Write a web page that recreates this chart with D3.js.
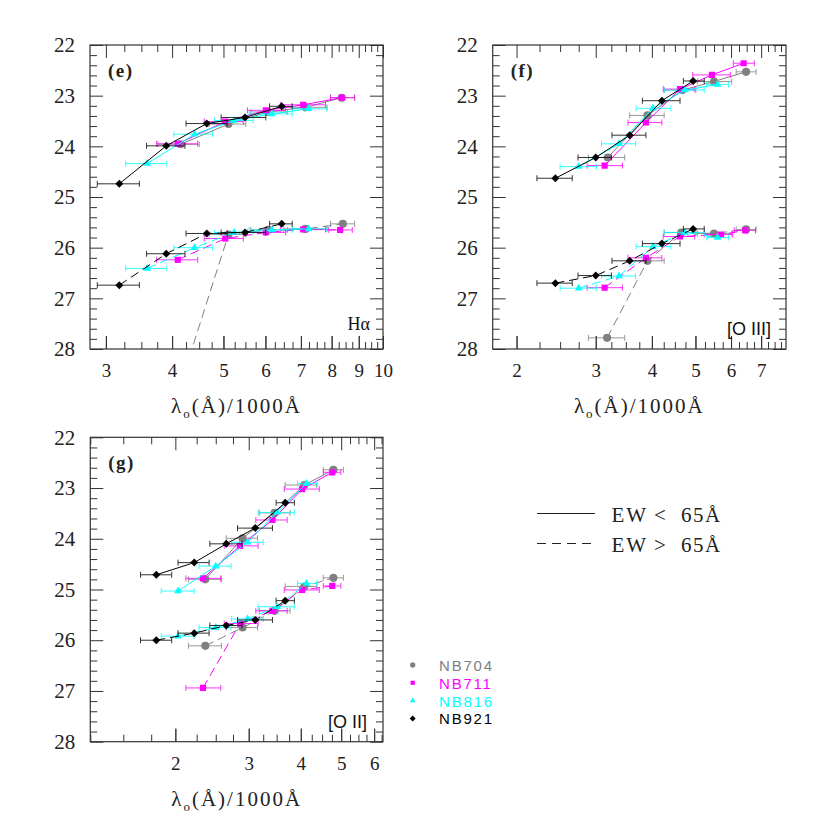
<!DOCTYPE html>
<html><head><meta charset="utf-8">
<script src="https://cdn.jsdelivr.net/npm/d3@7/dist/d3.min.js"></script>
<style>html,body{margin:0;padding:0;background:#fff}svg{display:block}</style>
</head><body>
<svg id="chart" width="830" height="830"></svg>
<script>
// ---------------- data ----------------
const filters = ["NB704", "NB711", "NB816", "NB921"];
const filterColors = ["#808080", "#ff00ff", "#00ffff", "#000000"];
const magTicks = [22, 23, 24, 25, 26, 27, 28];
const haTicks = [3, 4, 5, 6, 7, 8, 9, 10];
const oiiiTicks = [2, 3, 4, 5, 6, 7];
const oiiTicks = [2, 3, 4, 5, 6];
const ewLabels = [["EW", "<", "65Å"], ["EW", ">", "65Å"]];
const lineNames = ["Hα", "[O III]", "[O II]"];
const panelTags = ["(e)", "(f)", "(g)"];

// rows: NB704, NB711, NB816, NB921
// ---- Hα : EW < 65 Å
const haLamA = [[4.15, 5.11, 6.07, 7.14, 8.36], [4.10, 5.04, 6.01, 7.07, 8.36], [3.59, 4.41, 5.24, 6.17, 7.24], [3.18, 3.90, 4.65, 5.49, 6.44]];
const haLoA  = [[3.76, 4.70, 5.63, 6.50, 7.96], [3.74, 4.60, 5.55, 6.41, 7.96], [3.27, 4.03, 4.81, 5.59, 6.74], [2.89, 3.58, 4.25, 4.95, 6.11]];
const haHiA  = [[4.50, 5.51, 6.60, 7.84, 8.84], [4.47, 5.45, 6.55, 7.79, 8.84], [3.91, 4.77, 5.69, 6.74, 7.84], [3.47, 4.23, 5.08, 6.01, 6.74]];
const haMagA = [[23.96, 23.56, 23.32, 23.23, 23.04], [23.95, 23.51, 23.29, 23.18, 23.04], [24.34, 23.76, 23.49, 23.36, 23.26], [24.74, 23.99, 23.55, 23.43, 23.21]];
// ---- Hα : EW > 65 Å
const haLamB = [[4.15, 5.11, 6.07, 7.14, 8.40], [4.10, 5.04, 6.01, 7.07, 8.30], [3.59, 4.41, 5.24, 6.17, 7.24], [3.18, 3.90, 4.65, 5.49, 6.44]];
const haLoB  = [[3.76, 4.70, 5.63, 6.50, 7.96], [3.74, 4.60, 5.55, 6.41, 7.90], [3.27, 4.03, 4.81, 5.59, 6.74], [2.89, 3.58, 4.25, 4.95, 6.11]];
const haHiB  = [[4.50, 5.51, 6.60, 7.84, 8.84], [4.47, 5.45, 6.55, 7.79, 8.75], [3.91, 4.77, 5.69, 6.74, 7.84], [3.47, 4.23, 5.08, 6.01, 6.74]];
const haMagB = [[28.70, 25.74, 25.65, 25.63, 25.53], [26.24, 25.82, 25.70, 25.64, 25.65], [26.41, 26.00, 25.70, 25.65, 25.63], [26.74, 26.12, 25.72, 25.70, 25.53]];

// ---- [O III] : EW < 65 Å
const oiiiLamA = [[3.19, 3.91, 4.68, 5.50, 6.48], [3.14, 3.88, 4.62, 5.44, 6.40], [2.75, 3.38, 4.02, 4.74, 5.60], [2.44, 3.00, 3.57, 4.21, 4.94]];
const oiiiLoA  = [[2.89, 3.57, 4.26, 5.05, 6.16], [2.87, 3.54, 4.24, 4.93, 6.07], [2.50, 3.09, 3.69, 4.26, 5.30], [2.22, 2.74, 3.26, 3.81, 4.70]];
const oiiiHiA  = [[3.48, 4.26, 5.01, 6.02, 6.82], [3.44, 4.21, 4.98, 5.98, 6.76], [3.01, 3.68, 4.41, 5.23, 5.92], [2.66, 3.25, 3.88, 4.62, 5.23]];
const oiiiMagA = [[24.22, 23.39, 22.89, 22.72, 22.53], [24.38, 23.53, 22.87, 22.59, 22.36], [24.40, 23.95, 23.25, 22.89, 22.78], [24.63, 24.22, 23.78, 23.10, 22.71]];
// ---- [O III] : EW > 65 Å
const oiiiLamB = [[3.18, 3.91, 4.65, 5.50, 6.48], [3.14, 3.88, 4.62, 5.70, 6.45], [2.75, 3.38, 4.02, 4.74, 5.60], [2.44, 3.00, 3.57, 4.21, 4.94]];
const oiiiLoB  = [[2.89, 3.57, 4.26, 5.05, 6.16], [2.87, 3.54, 4.24, 5.23, 6.10], [2.50, 3.09, 3.69, 4.26, 5.30], [2.22, 2.74, 3.26, 3.81, 4.70]];
const oiiiHiB  = [[3.48, 4.26, 5.01, 6.02, 6.82], [3.44, 4.21, 4.98, 6.05, 6.80], [3.01, 3.68, 4.41, 5.23, 5.92], [2.66, 3.25, 3.88, 4.62, 5.23]];
const oiiiMagB = [[27.78, 26.26, 25.70, 25.72, 25.64], [26.79, 26.20, 25.78, 25.74, 25.66], [26.80, 26.56, 25.98, 25.70, 25.80], [26.70, 26.55, 26.26, 25.92, 25.63]];

// ---- [O II] : EW < 65 Å
const oiiLamA = [[2.36, 2.90, 3.46, 4.08, 4.79], [2.33, 2.86, 3.42, 4.03, 4.76], [2.03, 2.50, 2.98, 3.51, 4.13], [1.80, 2.22, 2.65, 3.11, 3.67]];
const oiiLoA  = [[2.15, 2.65, 3.18, 3.67, 4.53], [2.12, 2.62, 3.12, 3.65, 4.53], [1.85, 2.28, 2.73, 3.16, 3.93], [1.65, 2.03, 2.42, 2.82, 3.49]];
const oiiHiA  = [[2.58, 3.15, 3.77, 4.37, 5.06], [2.57, 3.16, 3.71, 4.43, 4.99], [2.22, 2.72, 3.25, 3.86, 4.37], [1.96, 2.41, 2.89, 3.42, 3.86]];
const oiiMagA = [[24.80, 23.99, 23.49, 22.94, 22.64], [24.78, 24.14, 23.63, 23.02, 22.69], [25.03, 24.54, 24.07, 23.48, 22.91], [24.71, 24.47, 24.10, 23.79, 23.29]];
// ---- [O II] : EW > 65 Å
const oiiLamB = [[2.36, 2.90, 3.46, 4.08, 4.79], [2.33, 2.86, 3.42, 4.03, 4.76], [2.03, 2.50, 2.98, 3.51, 4.13], [1.80, 2.22, 2.65, 3.11, 3.67]];
const oiiLoB  = [[2.15, 2.65, 3.18, 3.67, 4.53], [2.12, 2.62, 3.12, 3.65, 4.53], [1.85, 2.28, 2.73, 3.16, 3.93], [1.65, 2.03, 2.42, 2.82, 3.49]];
const oiiHiB  = [[2.58, 3.15, 3.77, 4.37, 5.06], [2.57, 3.16, 3.71, 4.43, 4.99], [2.22, 2.72, 3.25, 3.86, 4.37], [1.96, 2.41, 2.89, 3.42, 3.86]];
const oiiMagB = [[26.11, 25.75, 25.42, 24.94, 24.77], [26.94, 25.67, 25.42, 25.01, 24.93], [25.92, 25.75, 25.58, 25.34, 24.88], [26.00, 25.86, 25.71, 25.60, 25.22]];

// ---------------- drawing ----------------
const svg = d3.select("#chart");
const SERIF = "'Liberation Serif','DejaVu Serif',serif";
const SANS = "'Liberation Sans',Arial,sans-serif";
const FRAME = "#333";

function pack(lam, lo, hi, mag) {
  return lam.map((row, i) => row.map((v, j) => ({ lam: v, lo: lo[i][j], hi: hi[i][j], mag: mag[i][j] })));
}

const panels = [
  { id: "e", left: 90, right: 383, top: 45, bottom: 349, domain: [2.8, 10], ticks: haTicks,
    tag: panelTags[0], name: lineNames[0], nameFont: SERIF, nameX: 370, nameY: 330,
    A: pack(haLamA, haLoA, haHiA, haMagA), B: pack(haLamB, haLoB, haHiB, haMagB) },
  { id: "f", left: 492.7, right: 786, top: 45, bottom: 349, domain: [1.77, 7.95], ticks: oiiiTicks,
    tag: panelTags[1], name: lineNames[1], nameFont: SANS, nameX: 771, nameY: 335,
    A: pack(oiiiLamA, oiiiLoA, oiiiHiA, oiiiMagA), B: pack(oiiiLamB, oiiiLoB, oiiiHiB, oiiiMagB) },
  { id: "g", left: 90.3, right: 383, top: 437.3, bottom: 741.7, domain: [1.25, 6.3], ticks: oiiTicks,
    tag: panelTags[2], name: lineNames[2], nameFont: SANS, nameX: 367, nameY: 727.5,
    A: pack(oiiLamA, oiiLoA, oiiHiA, oiiMagA), B: pack(oiiLamB, oiiLoB, oiiHiB, oiiMagB) }
];

const symbols = [
  d3.symbol().type(d3.symbolCircle).size(52),
  d3.symbol().type(d3.symbolSquare).size(38),
  d3.symbol().type(d3.symbolTriangle).size(26),
  () => "M0,-4L4,0L0,4L-4,0Z"
];

function styleAxis(a, size) {
  a.select(".domain").remove();
  a.selectAll(".tick line").attr("stroke", FRAME).attr("stroke-width", 1);
  a.attr("font-family", SERIF).attr("font-size", size);
  a.selectAll("text").attr("fill", "#222");
}

panels.forEach(p => {
  const x = d3.scaleLog().domain(p.domain).range([p.left, p.right]);
  const y = d3.scaleLinear().domain([22, 28]).range([p.top, p.bottom]);
  const g = svg.append("g");
  const W = p.right - p.left, H = p.bottom - p.top;

  const clipId = "clip-" + p.id;
  svg.append("clipPath").attr("id", clipId).append("rect")
    .attr("x", p.left).attr("y", p.top).attr("width", W).attr("height", H);

  const d0 = p.domain[0], d1 = p.domain[1];
  const xMinor = d3.range(Math.ceil(d0 * 4) / 4, d1 + 1e-9, 0.25).filter(v => Math.abs(v - Math.round(v)) > 1e-6);
  const xMajorAll = d3.range(Math.ceil(d0), Math.floor(d1) + 1e-9, 1);
  const yMinor = d3.range(22, 28.0001, 0.2).filter(v => Math.abs(v - Math.round(v)) > 1e-6);
  const noLab = () => "";

  // bottom
  styleAxis(g.append("g").attr("transform", `translate(0,${p.bottom})`)
    .call(d3.axisBottom(x).tickValues(p.ticks).tickSize(-13).tickPadding(15).tickFormat(d3.format("d"))), 19);
  styleAxis(g.append("g").attr("transform", `translate(0,${p.bottom})`)
    .call(d3.axisBottom(x).tickValues(xMinor).tickSize(-7).tickFormat(noLab)), 10);
  styleAxis(g.append("g").attr("transform", `translate(0,${p.bottom})`)
    .call(d3.axisBottom(x).tickValues(xMajorAll).tickSize(-13).tickFormat(noLab)), 10);
  // top
  styleAxis(g.append("g").attr("transform", `translate(0,${p.top})`)
    .call(d3.axisTop(x).tickValues(xMajorAll).tickSize(-13).tickFormat(noLab)), 10);
  styleAxis(g.append("g").attr("transform", `translate(0,${p.top})`)
    .call(d3.axisTop(x).tickValues(xMinor).tickSize(-7).tickFormat(noLab)), 10);
  // left
  styleAxis(g.append("g").attr("transform", `translate(${p.left},0)`)
    .call(d3.axisLeft(y).tickValues(magTicks).tickSize(-13).tickPadding(15).tickFormat(d3.format("d"))), 21);
  styleAxis(g.append("g").attr("transform", `translate(${p.left},0)`)
    .call(d3.axisLeft(y).tickValues(yMinor).tickSize(-7).tickFormat(noLab)), 10);
  // right
  styleAxis(g.append("g").attr("transform", `translate(${p.right},0)`)
    .call(d3.axisRight(y).tickValues(magTicks).tickSize(-13).tickFormat(noLab)), 10);
  styleAxis(g.append("g").attr("transform", `translate(${p.right},0)`)
    .call(d3.axisRight(y).tickValues(yMinor).tickSize(-7).tickFormat(noLab)), 10);

  g.append("rect").attr("x", p.left).attr("y", p.top).attr("width", W).attr("height", H)
    .attr("fill", "none").attr("stroke", FRAME).attr("stroke-width", 1.2);

  // x title
  const t = g.append("text").attr("x", (p.left + p.right) / 2).attr("y", p.bottom + 64)
    .attr("text-anchor", "middle").attr("font-family", SERIF).attr("font-size", 21)
    .attr("letter-spacing", 2).attr("fill", "#222");
  t.append("tspan").text("λ");
  t.append("tspan").attr("font-size", 13).attr("dy", 5).text("o");
  t.append("tspan").attr("dy", -5).text("(Å)/1000Å");

  // panel tag & line name
  g.append("text").attr("x", p.left + 18).attr("y", p.top + 32).attr("font-family", SERIF)
    .attr("font-weight", "bold").attr("font-size", 19).attr("letter-spacing", 1.5).attr("fill", "#222").text(p.tag);
  g.append("text").attr("x", p.nameX).attr("y", p.nameY).attr("text-anchor", "end")
    .attr("font-family", p.nameFont).attr("font-size", 18).attr("fill", "#111").text(p.name);

  // data
  const plot = g.append("g").attr("clip-path", `url(#${clipId})`);
  const line = d3.line().x(d => x(d.lam)).y(d => y(d.mag));
  [0, 1, 2, 3].forEach(k => {
    const col = filterColors[k];
    [["A", null], ["B", "9,5"]].forEach(([grp, dash]) => {
      const pts = p[grp][k];
      plot.append("path").datum(pts).attr("d", line).attr("fill", "none")
        .attr("stroke", col).attr("stroke-width", 1).attr("stroke-dasharray", dash);
      const eb = plot.append("g").attr("stroke", col).attr("stroke-width", 1).attr("opacity", 0.8);
      pts.forEach(d => {
        const yy = y(d.mag), xa = x(d.lo), xb = x(d.hi);
        eb.append("line").attr("x1", xa).attr("x2", xb).attr("y1", yy).attr("y2", yy);
        eb.append("line").attr("x1", xa).attr("x2", xa).attr("y1", yy - 3).attr("y2", yy + 3);
        eb.append("line").attr("x1", xb).attr("x2", xb).attr("y1", yy - 3).attr("y2", yy + 3);
      });
      plot.append("g").selectAll("path").data(pts).join("path")
        .attr("transform", d => `translate(${x(d.lam)},${y(d.mag)})`)
        .attr("d", symbols[k]).attr("fill", col);
    });
  });
});

// EW legend
const ewG = svg.append("g");
ewLabels.forEach((lab, i) => {
  const yy = 513.5 + i * 30;
  ewG.append("line").attr("x1", 537).attr("x2", 595).attr("y1", yy).attr("y2", yy)
    .attr("stroke", "#222").attr("stroke-width", 1).attr("stroke-dasharray", i ? "9,6" : null);
  [611.5, 654, 681].forEach((xx, j) => {
    ewG.append("text").attr("x", xx).attr("y", yy + 8).attr("font-family", SERIF)
      .attr("font-size", 21).attr("fill", "#222").attr("letter-spacing", j === 2 ? 1.5 : 2).text(lab[j]);
  });
});

// filter legend
const legSym = [
  d3.symbol().type(d3.symbolCircle).size(22),
  d3.symbol().type(d3.symbolSquare).size(18),
  d3.symbol().type(d3.symbolTriangle).size(14),
  () => "M0,-3L3,0L0,3L-3,0Z"
];
filters.forEach((f, i) => {
  const yy = 665 + i * 17.8;
  svg.append("path").attr("transform", `translate(412.7,${yy})`).attr("d", legSym[i]).attr("fill", filterColors[i]);
  svg.append("text").attr("x", 439).attr("y", yy + 6).attr("font-family", SANS).attr("font-size", 15)
    .attr("letter-spacing", 1.8).attr("fill", filterColors[i]).text(f);
});
</script>
</body></html>
